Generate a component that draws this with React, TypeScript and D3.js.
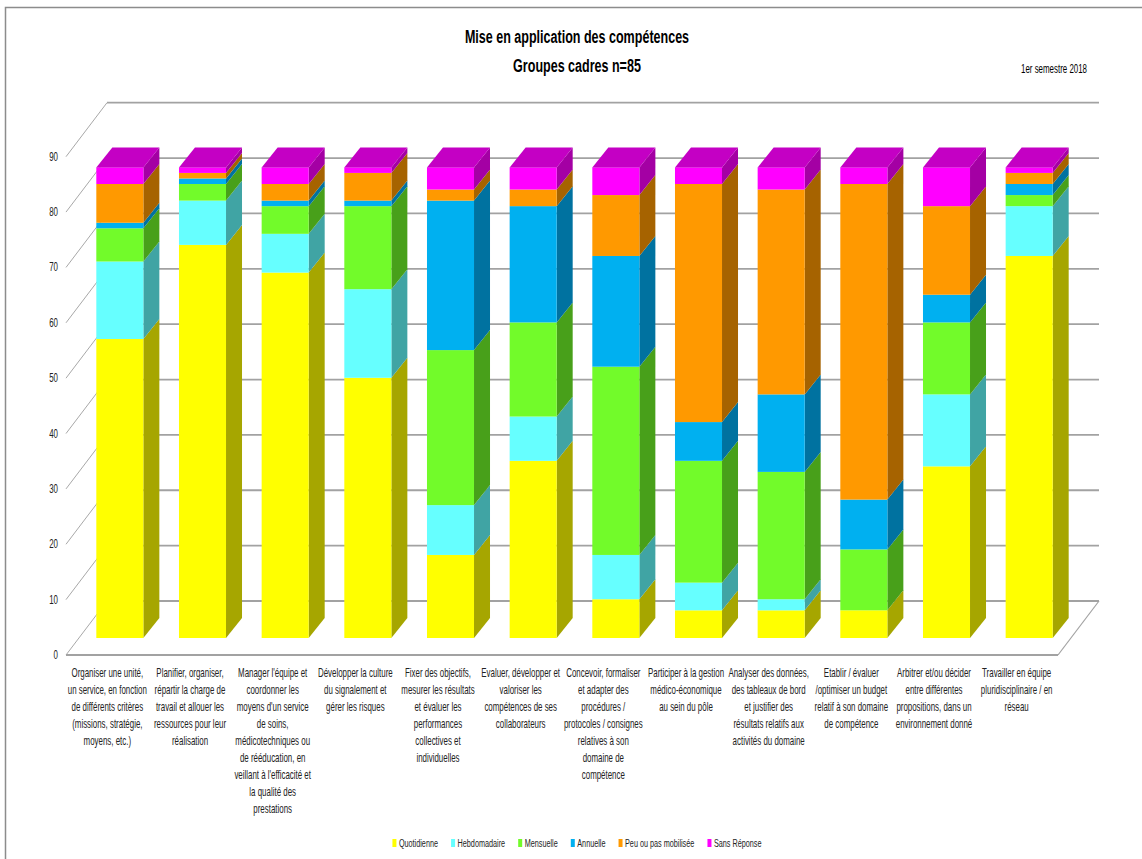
import React, { useMemo } from "react";
import * as d3 from "d3";

// Competency labels, already split into display lines
const categories: string[][] = [
  ["Organiser une unité,", "un service, en fonction", "de différents critères", "(missions, stratégie,", "moyens, etc.)"],
  ["Planifier, organiser,", "répartir la charge de", "travail et allouer les", "ressources pour leur", "réalisation"],
  ["Manager l'équipe et", "coordonner les", "moyens d'un service", "de soins,", "médicotechniques ou", "de rééducation, en", "veillant à l'efficacité et", "la qualité des", "prestations"],
  ["Développer la culture", "du signalement et", "gérer les risques"],
  ["Fixer des objectifs,", "mesurer les résultats", "et évaluer les", "performances", "collectives et", "individuelles"],
  ["Evaluer, développer et", "valoriser les", "compétences de ses", "collaborateurs"],
  ["Concevoir, formaliser", "et adapter des", "procédures /", "protocoles / consignes", "relatives à son", "domaine de", "compétence"],
  ["Participer à la gestion", "médico-économique", "au sein du pôle"],
  ["Analyser des données,", "des tableaux de bord", "et justifier des", "résultats relatifs aux", "activités du domaine"],
  ["Etablir / évaluer", "/optimiser un budget", "relatif à son domaine", "de compétence"],
  ["Arbitrer et/ou décider", "entre différentes", "propositions, dans un", "environnement donné"],
  ["Travailler en équipe", "pluridisciplinaire / en", "réseau"],
];

const seriesNames = ["Quotidienne", "Hebdomadaire", "Mensuelle", "Annuelle", "Peu ou pas mobilisée", "Sans Réponse"];

// Number of respondents per frequency, one entry per competency
const quotidienne = [54, 71, 66, 47, 15, 32, 7, 5, 5, 5, 31, 69];
const hebdomadaire = [14, 8, 7, 16, 9, 8, 8, 5, 2, 0, 13, 9];
const mensuelle = [6, 3, 5, 15, 28, 17, 34, 22, 23, 11, 13, 2];
const annuelle = [1, 1, 1, 1, 27, 21, 20, 7, 14, 9, 5, 2];
const peuOuPas = [7, 1, 3, 5, 2, 3, 11, 43, 37, 57, 16, 2];
const sansReponse = [3, 1, 3, 1, 4, 4, 5, 3, 4, 3, 7, 1];

const yTicks = [0, 10, 20, 30, 40, 50, 60, 70, 80, 90];

const frontColors = ["#FFFF00", "#66FFFF", "#72FB2A", "#00B0F0", "#FF9900", "#FF00FF"];
const sideColors = ["#A6A600", "#40A4A4", "#48A01A", "#0072A0", "#A66300", "#A400A4"];
const topColor = "#C400C4";

const FONT = "'Liberation Sans', Arial, sans-serif";
const SX = 0.66;

function CText(props: {
  x: number; y: number; anchor?: string; size: number; weight?: string; fill?: string; children: React.ReactNode;
}) {
  const { x, y, anchor = "start", size, weight = "normal", fill = "#000", children } = props;
  return (
    <text
      transform={`translate(${x},${y}) scale(${SX},1)`}
      textAnchor={anchor as any}
      fontSize={size}
      fontWeight={weight}
      fontFamily={FONT}
      fill={fill}
    >
      {children}
    </text>
  );
}

export default function App() {
  const W = 1142;
  const H = 859;

  // floor front edge and depth of the 3D box
  const x0 = 66;
  const x1 = 1058;
  const floorY = 655;
  const depth = { dx: 41, dy: 54 };
  // bars sit inside the depth
  const barShift = { dx: 12.5, dy: 17 };
  const barDepth = { dx: 16, dy: 20 };

  const y = d3.scaleLinear().domain([0, 90]).range([floorY, 156.7]);
  const x = d3
    .scaleBand<number>()
    .domain(d3.range(categories.length))
    .range([x0, x1])
    .paddingInner(0.431)
    .paddingOuter(0.2155);

  const rows = categories.map((_, i) => ({
    i,
    s0: quotidienne[i],
    s1: hebdomadaire[i],
    s2: mensuelle[i],
    s3: annuelle[i],
    s4: peuOuPas[i],
    s5: sansReponse[i],
  }));
  const keys = ["s0", "s1", "s2", "s3", "s4", "s5"];
  const stacked = d3.stack<any>().keys(keys)(rows);

  const bw = x.bandwidth();

  // legend layout using measured text widths
  const legend = useMemo(() => {
    const canvas = document.createElement("canvas");
    const ctx = canvas.getContext("2d")!;
    ctx.font = `11px ${FONT}`;
    const sq = 4;
    const gap = 2.5;
    const spacing = 13;
    const widths = seriesNames.map((n) => ctx.measureText(n).width * SX);
    const total = widths.reduce((a, w) => a + sq + gap + w, 0) + spacing * (seriesNames.length - 1);
    let cx = 577 - total / 2;
    return seriesNames.map((n, k) => {
      const item = { name: n, x: cx, k };
      cx += sq + gap + widths[k] + spacing;
      return item;
    });
  }, []);

  const backLeft = x0 + depth.dx;
  const backRight = x1 + depth.dx;

  return (
    <svg
      width={W}
      height={H}
      style={{ position: "absolute", left: 0, top: 0, background: "#fff" }}
    >
      <rect x={0} y={0} width={W} height={H} fill="#fff" />
      {/* chart frame */}
      <rect x={5.5} y={7.5} width={1300} height={1000} fill="none" stroke="#8c8c8c" strokeWidth={1.5} />

      {/* titles */}
      <CText x={577} y={43} anchor="middle" size={19} weight="bold">Mise en application des compétences</CText>
      <CText x={577} y={72} anchor="middle" size={19} weight="bold">Groupes cadres n=85</CText>
      <CText x={1087} y={73} anchor="end" size={12}>1er semestre 2018</CText>

      {/* side wall grid lines */}
      {yTicks.map((t) => (
        <line
          key={`sw${t}`}
          x1={x0}
          y1={y(t)}
          x2={backLeft}
          y2={y(t) - depth.dy}
          stroke="#a8a8a8"
          strokeWidth={1}
        />
      ))}
      {/* back wall grid lines */}
      {yTicks.map((t) => (
        <line
          key={`bw${t}`}
          x1={backLeft}
          y1={y(t) - depth.dy}
          x2={backRight}
          y2={y(t) - depth.dy}
          stroke="#a2a2a2"
          strokeWidth={1.8}
        />
      ))}
      {/* floor */}
      <line x1={x0} y1={floorY} x2={x1} y2={floorY} stroke="#a2a2a2" strokeWidth={2} />
      <line x1={x1} y1={floorY} x2={backRight} y2={floorY - depth.dy} stroke="#a2a2a2" strokeWidth={1.2} />

      {/* y axis labels */}
      {yTicks.map((t) => (
        <CText key={`yl${t}`} x={58} y={y(t) + 4} anchor="end" size={12} fill="#222">
          {t}
        </CText>
      ))}

      {/* stacked 3D columns */}
      {rows.map((r) => {
        const bx = (x(r.i) as number) + barShift.dx;
        const yb = (v: number) => y(v) - barShift.dy;
        const total = stacked[stacked.length - 1][r.i][1];
        const tY = yb(total);
        return (
          <g key={`bar${r.i}`}>
            {stacked.map((s, j) => {
              const [a, b] = s[r.i];
              if (b - a <= 0) return null;
              const top = yb(b);
              const bot = yb(a);
              const rx = bx + bw;
              return (
                <g key={j}>
                  <polygon
                    points={`${rx},${top} ${rx + barDepth.dx},${top - barDepth.dy} ${rx + barDepth.dx},${bot - barDepth.dy} ${rx},${bot}`}
                    fill={sideColors[j]}
                  />
                  <rect x={bx} y={top} width={bw} height={bot - top} fill={frontColors[j]} />
                </g>
              );
            })}
            <polygon
              points={`${bx},${tY} ${bx + barDepth.dx},${tY - barDepth.dy} ${bx + bw + barDepth.dx},${tY - barDepth.dy} ${bx + bw},${tY}`}
              fill={topColor}
            />
          </g>
        );
      })}

      {/* category labels */}
      {categories.map((lines, i) => {
        const cx = (x(i) as number) + bw / 2;
        return (
          <g key={`cat${i}`}>
            {lines.map((ln, k) => (
              <CText key={k} x={cx} y={677 + k * 17} anchor="middle" size={12} fill="#222">
                {ln}
              </CText>
            ))}
          </g>
        );
      })}

      {/* legend */}
      {legend.map((it) => (
        <g key={`lg${it.k}`}>
          <rect x={it.x} y={839} width={4} height={8} fill={frontColors[it.k]} />
          <CText x={it.x + 6.5} y={847} size={11} fill="#222">
            {it.name}
          </CText>
        </g>
      ))}
    </svg>
  );
}
